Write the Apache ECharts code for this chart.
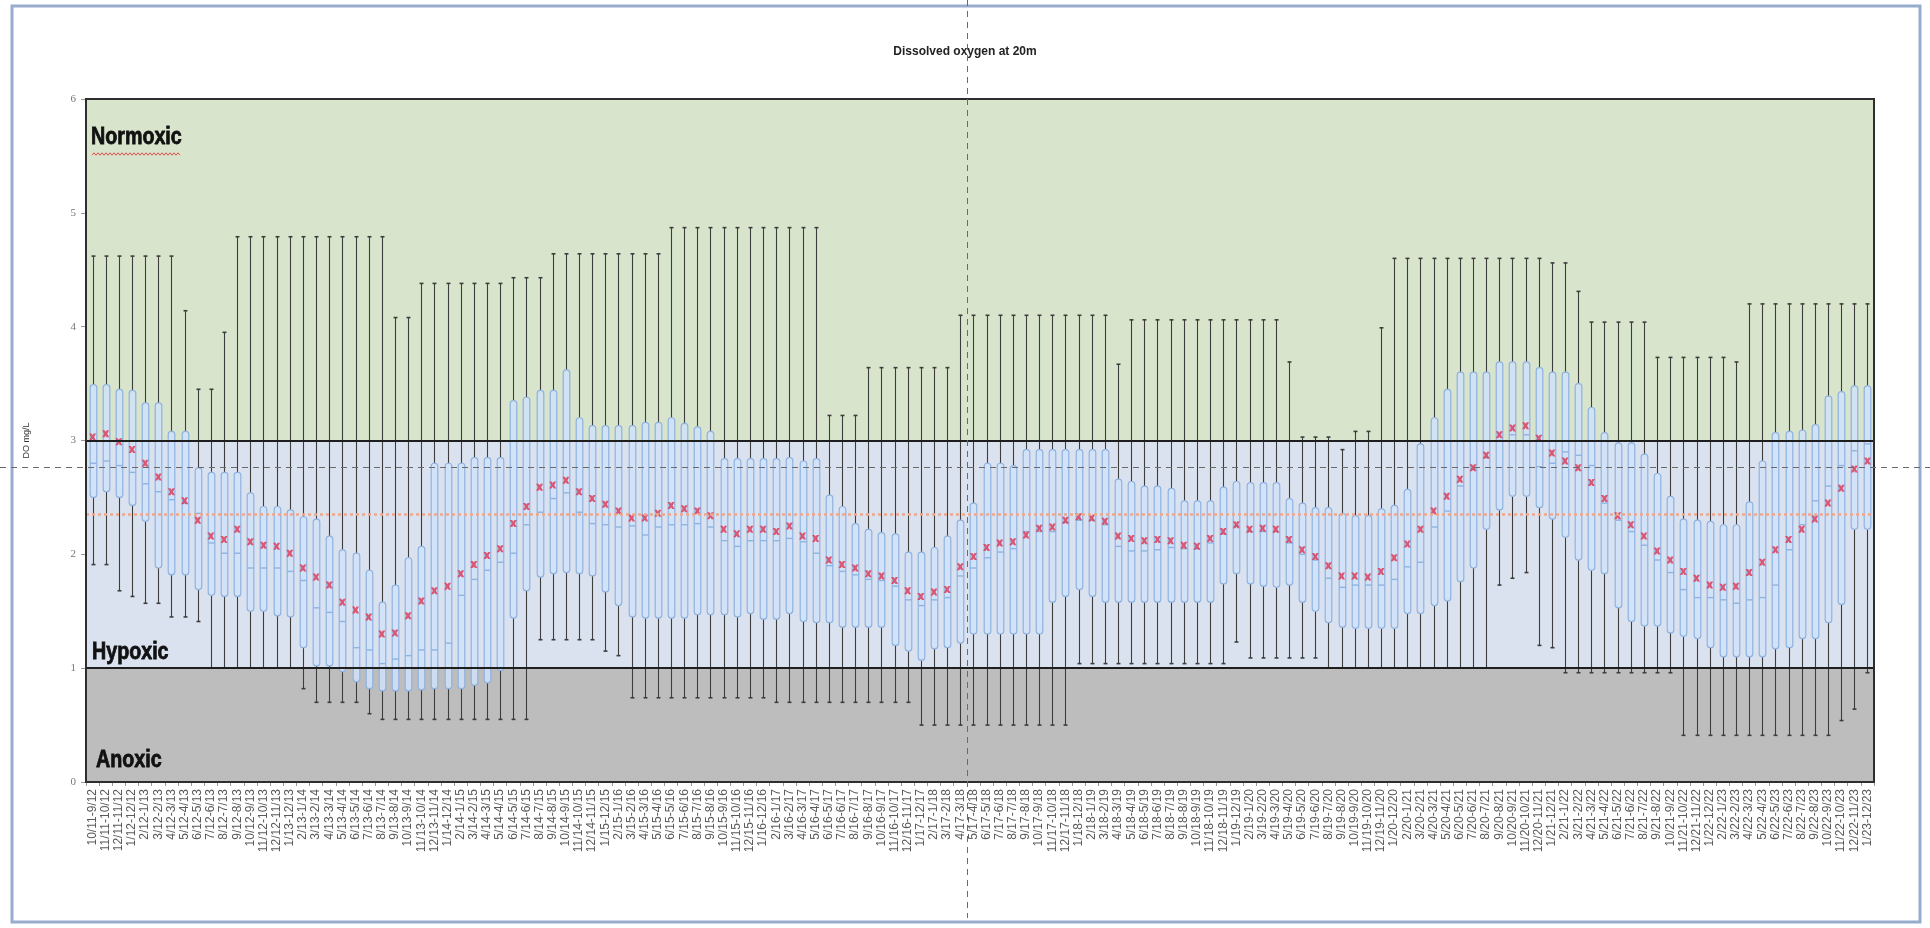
<!DOCTYPE html>
<html>
<head>
<meta charset="utf-8">
<title>Dissolved oxygen at 20m</title>
<script src="https://cdn.jsdelivr.net/npm/echarts@6/dist/echarts.min.js"></script>
<style>
  html, body { margin: 0; padding: 0; background: #ffffff; }
  #chart { width: 1930px; height: 928px; }
</style>
</head>
<body>
<div id="chart"></div>
<script>
// Rolling 12-month windows
const categories = [
  "10/11-9/12","11/11-10/12","12/11-11/12",
  "1/12-12/12","2/12-1/13","3/12-2/13","4/12-3/13","5/12-4/13","6/12-5/13","7/12-6/13","8/12-7/13","9/12-8/13","10/12-9/13","11/12-10/13","12/12-11/13",
  "1/13-12/13","2/13-1/14","3/13-2/14","4/13-3/14","5/13-4/14","6/13-5/14","7/13-6/14","8/13-7/14","9/13-8/14","10/13-9/14","11/13-10/14","12/13-11/14",
  "1/14-12/14","2/14-1/15","3/14-2/15","4/14-3/15","5/14-4/15","6/14-5/15","7/14-6/15","8/14-7/15","9/14-8/15","10/14-9/15","11/14-10/15","12/14-11/15",
  "1/15-12/15","2/15-1/16","3/15-2/16","4/15-3/16","5/15-4/16","6/15-5/16","7/15-6/16","8/15-7/16","9/15-8/16","10/15-9/16","11/15-10/16","12/15-11/16",
  "1/16-12/16","2/16-1/17","3/16-2/17","4/16-3/17","5/16-4/17","6/16-5/17","7/16-6/17","8/16-7/17","9/16-8/17","10/16-9/17","11/16-10/17","12/16-11/17",
  "1/17-12/17","2/17-1/18","3/17-2/18","4/17-3/18","5/17-4/18","6/17-5/18","7/17-6/18","8/17-7/18","9/17-8/18","10/17-9/18","11/17-10/18","12/17-11/18",
  "1/18-12/18","2/18-1/19","3/18-2/19","4/18-3/19","5/18-4/19","6/18-5/19","7/18-6/19","8/18-7/19","9/18-8/19","10/18-9/19","11/18-10/19","12/18-11/19",
  "1/19-12/19","2/19-1/20","3/19-2/20","4/19-3/20","5/19-4/20","6/19-5/20","7/19-6/20","8/19-7/20","9/19-8/20","10/19-9/20","11/19-10/20","12/19-11/20",
  "1/20-12/20","2/20-1/21","3/20-2/21","4/20-3/21","5/20-4/21","6/20-5/21","7/20-6/21","8/20-7/21","9/20-8/21","10/20-9/21","11/20-10/21","12/20-11/21",
  "1/21-12/21","2/21-1/22","3/21-2/22","4/21-3/22","5/21-4/22","6/21-5/22","7/21-6/22","8/21-7/22","9/21-8/22","10/21-9/22","11/21-10/22","12/21-11/22",
  "1/22-12/22","2/22-1/23","3/22-2/23","4/22-3/23","5/22-4/23","6/22-5/23","7/22-6/23","8/22-7/23","9/22-8/23","10/22-9/23","11/22-10/23","12/22-11/23",
  "1/23-12/23"
];

// Box statistics per window (DO, mg/L)
const doMin = [
  1.91,1.91,1.68,1.63,1.57,1.57,1.45,1.45,1.41,1.00,1.00,1.00,1.00,1.00,1.00,1.00,0.82,0.70,0.70,0.70,
  0.70,0.60,0.55,0.55,0.55,0.55,0.55,0.55,0.55,0.55,0.55,0.55,0.55,0.55,1.25,1.25,1.25,1.25,1.25,1.15,
  1.11,0.74,0.74,0.74,0.74,0.74,0.74,0.74,0.74,0.74,0.74,0.74,0.70,0.70,0.70,0.70,0.70,0.70,0.70,0.70,
  0.70,0.70,0.70,0.50,0.50,0.50,0.50,0.50,0.50,0.50,0.50,0.50,0.50,0.50,0.50,1.04,1.04,1.04,1.04,1.04,
  1.04,1.04,1.04,1.04,1.04,1.04,1.04,1.23,1.09,1.09,1.09,1.09,1.09,1.09,1.00,1.00,1.00,1.00,1.00,1.00,
  1.00,1.00,1.00,1.00,1.00,1.00,1.00,1.73,1.79,1.84,1.20,1.18,0.96,0.96,0.96,0.96,0.96,0.96,0.96,0.96,
  0.96,0.41,0.41,0.41,0.41,0.41,0.41,0.41,0.41,0.41,0.41,0.41,0.41,0.54,0.64,0.96
];
const doQ1 = [
  2.50,2.55,2.50,2.43,2.29,1.88,1.82,1.82,1.69,1.64,1.63,1.63,1.50,1.50,1.46,1.45,1.18,1.02,1.02,0.97,
  0.88,0.82,0.80,0.80,0.80,0.81,0.82,0.82,0.82,0.85,0.87,0.98,1.44,1.68,1.80,1.83,1.84,1.83,1.81,1.67,
  1.55,1.45,1.44,1.44,1.44,1.44,1.47,1.47,1.47,1.45,1.48,1.43,1.43,1.48,1.41,1.40,1.40,1.36,1.36,1.36,
  1.36,1.20,1.15,1.07,1.17,1.18,1.22,1.30,1.30,1.30,1.30,1.30,1.30,1.58,1.63,1.69,1.63,1.58,1.58,1.58,
  1.58,1.58,1.58,1.58,1.58,1.58,1.74,1.83,1.74,1.72,1.71,1.73,1.58,1.50,1.40,1.36,1.35,1.35,1.35,1.35,
  1.48,1.48,1.55,1.59,1.76,1.88,2.22,2.39,2.51,2.51,2.41,2.31,2.15,1.95,1.86,1.83,1.53,1.41,1.37,1.37,
  1.31,1.28,1.26,1.18,1.10,1.10,1.10,1.10,1.17,1.18,1.26,1.26,1.40,1.56,2.22,2.22
];
const doMedian = [
  2.80,2.82,2.78,2.72,2.62,2.55,2.48,2.45,2.36,2.10,2.01,2.01,1.88,1.88,1.88,1.85,1.77,1.53,1.49,1.41,
  1.18,1.16,1.04,1.08,1.11,1.16,1.16,1.22,1.64,1.78,1.86,1.93,2.01,2.26,2.37,2.49,2.54,2.37,2.27,2.26,
  2.24,2.25,2.17,2.24,2.26,2.26,2.27,2.24,2.12,2.07,2.12,2.12,2.12,2.14,2.11,2.01,1.90,1.85,1.82,1.78,
  1.77,1.72,1.60,1.55,1.60,1.62,1.81,1.88,1.97,2.02,2.05,2.20,2.20,2.20,2.28,2.30,2.30,2.26,2.07,2.03,
  2.03,2.04,2.06,2.05,2.05,2.10,2.18,2.25,2.20,2.20,2.20,2.10,2.00,1.95,1.79,1.71,1.73,1.73,1.73,1.78,
  1.89,1.93,2.24,2.38,2.60,2.75,2.85,3.00,3.05,3.05,2.77,2.80,2.90,2.87,2.78,2.45,2.30,2.20,2.08,1.95,
  1.84,1.69,1.62,1.62,1.60,1.57,1.60,1.62,1.73,2.04,2.26,2.47,2.60,2.78,2.91,2.97
];
const doQ3 = [
  3.49,3.49,3.45,3.44,3.33,3.33,3.08,3.08,2.76,2.72,2.72,2.72,2.54,2.42,2.42,2.39,2.33,2.31,2.16,2.04,
  2.01,1.86,1.58,1.73,1.97,2.07,2.80,2.80,2.80,2.85,2.85,2.85,3.35,3.38,3.44,3.44,3.62,3.20,3.13,3.13,
  3.13,3.13,3.16,3.16,3.20,3.15,3.12,3.08,2.84,2.84,2.84,2.84,2.84,2.85,2.82,2.84,2.52,2.42,2.27,2.22,
  2.19,2.18,2.02,2.02,2.06,2.16,2.30,2.45,2.80,2.80,2.78,2.92,2.92,2.92,2.92,2.92,2.92,2.92,2.66,2.64,
  2.60,2.60,2.58,2.47,2.47,2.47,2.59,2.64,2.63,2.63,2.63,2.49,2.45,2.41,2.41,2.36,2.34,2.34,2.40,2.43,
  2.57,2.97,3.20,3.45,3.60,3.60,3.60,3.69,3.69,3.69,3.64,3.60,3.60,3.50,3.29,3.07,2.98,2.98,2.88,2.71,
  2.51,2.31,2.30,2.29,2.26,2.26,2.46,2.82,3.07,3.08,3.09,3.14,3.39,3.43,3.48,3.48
];
const doMax = [
  4.62,4.62,4.62,4.62,4.62,4.62,4.62,4.14,3.45,3.45,3.95,4.79,4.79,4.79,4.79,4.79,4.79,4.79,4.79,4.79,
  4.79,4.79,4.79,4.08,4.08,4.38,4.38,4.38,4.38,4.38,4.38,4.38,4.43,4.43,4.43,4.64,4.64,4.64,4.64,4.64,
  4.64,4.64,4.64,4.64,4.87,4.87,4.87,4.87,4.87,4.87,4.87,4.87,4.87,4.87,4.87,4.87,3.22,3.22,3.22,3.64,
  3.64,3.64,3.64,3.64,3.64,3.64,4.10,4.10,4.10,4.10,4.10,4.10,4.10,4.10,4.10,4.10,4.10,4.10,3.67,4.06,
  4.06,4.06,4.06,4.06,4.06,4.06,4.06,4.06,4.06,4.06,4.06,3.69,3.03,3.03,3.03,2.92,3.08,3.08,3.99,4.60,
  4.60,4.60,4.60,4.60,4.60,4.60,4.60,4.60,4.60,4.60,4.60,4.56,4.56,4.31,4.04,4.04,4.04,4.04,4.04,3.73,
  3.73,3.73,3.73,3.73,3.73,3.69,4.20,4.20,4.20,4.20,4.20,4.20,4.20,4.20,4.20,4.20
];
const doMean = [
  3.03,3.06,2.99,2.92,2.80,2.68,2.55,2.47,2.30,2.16,2.13,2.22,2.11,2.08,2.07,2.01,1.88,1.80,1.73,1.58,
  1.51,1.45,1.30,1.31,1.46,1.59,1.68,1.72,1.83,1.91,1.99,2.05,2.27,2.42,2.59,2.61,2.65,2.55,2.49,2.44,
  2.38,2.32,2.32,2.36,2.43,2.40,2.38,2.34,2.22,2.18,2.22,2.22,2.20,2.25,2.16,2.14,1.95,1.91,1.88,1.83,
  1.81,1.77,1.68,1.63,1.67,1.69,1.89,1.98,2.06,2.10,2.11,2.17,2.23,2.24,2.30,2.33,2.32,2.29,2.16,2.14,
  2.12,2.13,2.12,2.08,2.07,2.14,2.20,2.26,2.22,2.23,2.22,2.13,2.04,1.98,1.90,1.81,1.81,1.80,1.85,1.97,
  2.09,2.22,2.38,2.51,2.66,2.76,2.87,3.05,3.11,3.13,3.02,2.89,2.82,2.76,2.63,2.49,2.34,2.26,2.16,2.03,
  1.95,1.85,1.79,1.73,1.71,1.72,1.84,1.93,2.04,2.13,2.22,2.31,2.45,2.58,2.75,2.82
];

// Oxygen zones and reference levels
const zoneNames = ["Anoxic", "Hypoxic", "Normoxic"];
const zoneBounds = [[0, 1], [1, 3], [3, 6]];
const zoneThresholds = [1, 3];
const overallMean = 2.345;
const yTicks = [0, 1, 2, 3, 4, 5, 6];

// Cursor crosshair position (between two windows, at a DO level)
const cursorBetween = [66, 67];
const cursorValue = 2.77;

const boxData = categories.map((c, i) => [i, doMin[i], doQ1[i], doMedian[i], doQ3[i], doMax[i]]);

function renderBox(params, api) {
  const x = api.value(0);
  const pMin = api.coord([x, api.value(1)]);
  const pQ1 = api.coord([x, api.value(2)]);
  const pMed = api.coord([x, api.value(3)]);
  const pQ3 = api.coord([x, api.value(4)]);
  const pMax = api.coord([x, api.value(5)]);
  const band = api.size([1, 0])[0];
  const boxW = band * 0.5;
  const capW = band * 0.3;
  const cx = Math.round(pMin[0]) + 0.5;
  const whisker = { stroke: '#3d3d3d', lineWidth: 1.1 };
  return {
    type: 'group',
    children: [
      { type: 'line', shape: { x1: cx, y1: pMax[1], x2: cx, y2: pQ3[1] }, style: whisker },
      { type: 'line', shape: { x1: cx, y1: pQ1[1], x2: cx, y2: pMin[1] }, style: whisker },
      { type: 'line', shape: { x1: cx - capW / 2, y1: pMax[1], x2: cx + capW / 2, y2: pMax[1] }, style: { stroke: '#3d3d3d', lineWidth: 1.6 } },
      { type: 'line', shape: { x1: cx - capW / 2, y1: pMin[1], x2: cx + capW / 2, y2: pMin[1] }, style: { stroke: '#3d3d3d', lineWidth: 1.6 } },
      {
        type: 'rect',
        shape: { x: cx - boxW / 2, y: pQ3[1], width: boxW, height: pQ1[1] - pQ3[1], r: 3 },
        style: { fill: 'rgba(208,226,250,0.85)', stroke: '#8fb3e0', lineWidth: 1.2 }
      },
      { type: 'line', shape: { x1: cx - boxW / 2, y1: pMed[1], x2: cx + boxW / 2, y2: pMed[1] }, style: { stroke: '#8fb3e0', lineWidth: 1.4 } }
    ]
  };
}

const zoneColors = ['#bdbdbd', '#dbe2ef', '#d8e4cb'];

const chart = echarts.init(document.getElementById('chart'), null, { renderer: 'canvas' });

chart.setOption({
  backgroundColor: '#ffffff',
  animation: false,
  title: {
    text: 'Dissolved oxygen at 20m',
    left: 'center',
    top: 41,
    textStyle: { fontSize: 12, fontWeight: 'bold', color: '#222', fontFamily: "'Liberation Sans', sans-serif" }
  },
  grid: {
    left: 86, right: 56, top: 99, bottom: 146,
    show: true, borderColor: '#2e2e2e', borderWidth: 2, backgroundColor: 'transparent', z: 10
  },
  xAxis: {
    type: 'category',
    data: categories,
    boundaryGap: true,
    axisLine: { show: false },
    axisTick: { show: true, interval: 0, length: 4, lineStyle: { color: '#999' } },
    axisLabel: {
      interval: 0, rotate: 90, fontSize: 12, color: '#5a5a5a', margin: 7,
      fontFamily: "'Liberation Sans', sans-serif"
    },
    splitLine: { show: false }
  },
  yAxis: {
    type: 'value',
    min: 0, max: 6, interval: 1,
    name: 'DO mg/L',
    nameLocation: 'middle',
    nameGap: 55,
    nameTextStyle: { fontSize: 9, color: '#333', fontFamily: "'Liberation Sans', sans-serif" },
    axisLine: { show: false },
    axisTick: { show: true, length: 5, lineStyle: { color: '#999' } },
    axisLabel: {
      color: '#777', fontSize: 11, margin: 10, fontFamily: "'Liberation Serif', serif",
      formatter: v => (yTicks.indexOf(v) >= 0 ? String(v) : '')
    },
    splitLine: { show: false }
  },
  series: [
    {
      name: 'zones',
      type: 'line',
      data: [],
      z: 1,
      silent: true,
      markArea: {
        silent: true,
        data: zoneBounds.map((b, k) => [
          { yAxis: b[0], itemStyle: { color: zoneColors[k] }, label: { show: false } },
          { yAxis: b[1] }
        ])
      }
    },
    {
      name: 'DO range',
      type: 'custom',
      renderItem: renderBox,
      data: boxData,
      encode: { x: 0, y: [1, 2, 3, 4, 5] },
      z: 2,
      silent: true
    },
    {
      name: 'levels',
      type: 'line',
      data: [],
      z: 3,
      silent: true,
      markLine: {
        silent: true,
        symbol: 'none',
        label: { show: false },
        data: [
          ...zoneThresholds.map(v => ({ yAxis: v, lineStyle: { color: '#1e1e1e', width: 2, type: 'solid' } })),
          { yAxis: overallMean, lineStyle: { color: '#eba88f', width: 2.5, type: [3, 3] } }
        ]
      }
    },
    {
      name: 'Mean',
      type: 'scatter',
      data: doMean,
      z: 4,
      silent: true,
      symbol: 'path://M0,0 L3.4,0 L5,2.2 L6.6,0 L10,0 L7.2,5 L10,10 L6.6,10 L5,7.8 L3.4,10 L0,10 L2.8,5 Z',
      symbolSize: 7,
      itemStyle: { color: '#dc3552' }
    }
  ]
});

// Zone names, frame, spell-check underline and cursor crosshair, placed through the axes
function decorate() {
  const plotLeft = chart.convertToPixel({ xAxisIndex: 0 }, 0) - chart.getModel().getComponent('xAxis', 0).axis.getBandWidth() / 2;
  const y6 = chart.convertToPixel({ yAxisIndex: 0 }, 6);
  const y1 = chart.convertToPixel({ yAxisIndex: 0 }, 1);
  const y0 = chart.convertToPixel({ yAxisIndex: 0 }, 0);
  const xa = chart.convertToPixel({ xAxisIndex: 0 }, cursorBetween[0]);
  const xb = chart.convertToPixel({ xAxisIndex: 0 }, cursorBetween[1]);
  const cursorX = Math.round((xa + xb) / 2) + 0.5;
  const cursorY = Math.round(chart.convertToPixel({ yAxisIndex: 0 }, cursorValue)) + 0.5;

  // zone names: [name, left offset, vertical centre]
  const zoneText = [
    [zoneNames[2], 5, y6 + 38],
    [zoneNames[1], 6, y1 - 16],
    [zoneNames[0], 10, y0 - 22]
  ];

  const squiggle = [];
  const sx0 = plotLeft + 6, sx1 = plotLeft + 95, sy = y6 + 55;
  for (let x = sx0, k = 0; x <= sx1; x += 2, k++) {
    squiggle.push([x, sy + (k % 2 === 0 ? 1.2 : -1.2)]);
  }

  chart.setOption({
    graphic: [
      ...zoneText.map(t => ({
        type: 'text', silent: true, z: 40,
        x: plotLeft + t[1], y: t[2], scaleX: 0.82,
        style: {
          text: t[0], x: 0, y: 0,
          font: "bold 24px 'Liberation Sans', sans-serif",
          fill: '#111', stroke: '#111', lineWidth: 0.8,
          align: 'left', verticalAlign: 'middle'
        }
      })),
      {
        type: 'rect', silent: true, z: 50,
        shape: { x: 12, y: 6, width: 1908, height: 916 },
        style: { fill: 'none', stroke: '#97acce', lineWidth: 3 }
      },
      {
        type: 'polyline', silent: true, z: 60,
        shape: { points: squiggle },
        style: { stroke: '#e0524f', lineWidth: 1, fill: 'none' }
      },
      {
        type: 'line', silent: true, z: 70,
        shape: { x1: cursorX, y1: 0, x2: cursorX, y2: 918 },
        style: { stroke: '#6a6a6a', lineWidth: 1, lineDash: [6, 5] }
      },
      {
        type: 'line', silent: true, z: 70,
        shape: { x1: 0, y1: cursorY, x2: 1930, y2: cursorY },
        style: { stroke: '#6a6a6a', lineWidth: 1, lineDash: [6, 5] }
      }
    ]
  });
}
decorate();
</script>
</body>
</html>
